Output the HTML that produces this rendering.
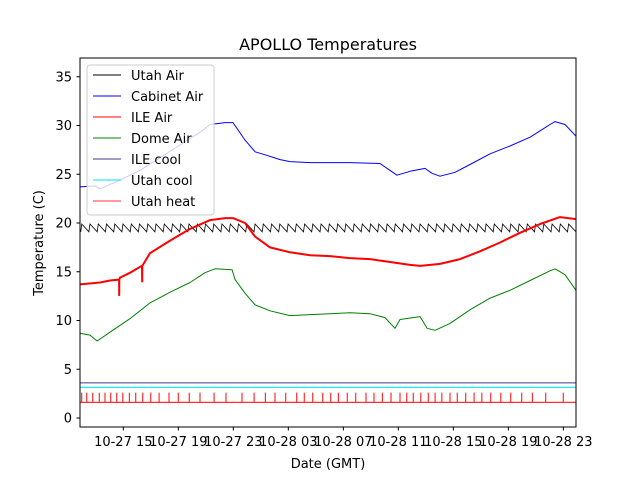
<!DOCTYPE html>
<html><head><meta charset="utf-8"><style>
body{margin:0;background:#fff;font-family:"Liberation Sans","DejaVu Sans",sans-serif}
svg text{font-family:"DejaVu Sans","Liberation Sans",sans-serif;fill:#000}
</style></head><body>
<svg id="chart" width="640" height="480" viewBox="0 0 640 480" xmlns="http://www.w3.org/2000/svg">
<rect width="640" height="480" fill="#fff"/>
<text x="328" y="50" font-size="16" text-anchor="middle">APOLLO Temperatures</text>
<text x="328" y="468" font-size="13" text-anchor="middle">Date (GMT)</text>
<text transform="translate(43,243) rotate(-90)" font-size="13" text-anchor="middle">Temperature (C)</text>
<g id="marks"></g>
<g id="axes"></g>
<rect x="80" y="58" width="496" height="369" fill="none" stroke="#000" stroke-width="1"/>
<g id="legend"></g>
</svg>
<script>
// time in hours from 10-27 00:00 GMT
const cabTimes=[11.85,12.94,13.31,14.76,16.21,17.67,19.12,20.58,21.31,22.4,22.98,23.85,24.58,25.31,26.4,27.12,28.58,30.03,31.48,33.67,34.4,34.9,35.85,36.94,37.45,38.03,39.12,40.21,41.67,43.12,44.58,46.03,46.4,47.12,47.92];
const cabVals=[23.7,23.8,23.5,24.4,25.4,26.7,28.0,29.3,30.1,30.3,30.3,28.5,27.3,27.0,26.5,26.3,26.2,26.2,26.2,26.1,25.4,24.9,25.3,25.6,25.1,24.8,25.2,26.0,27.1,27.9,28.8,30.1,30.4,30.1,28.9];
const ileTimes=[11.85,13.31,14.03,14.69,14.7,14.71,14.76,15.49,16.21,16.36,16.37,16.38,16.94,18.4,19.85,21.31,22.4,22.98,23.85,24.58,25.67,27.12,28.58,30.03,31.48,32.94,34.4,35.85,36.58,38.03,39.49,40.94,42.4,43.85,45.31,46.76,47.92];
const ileVals=[13.7,13.9,14.1,14.2,12.6,14.2,14.4,14.9,15.5,15.6,14.0,15.6,16.9,18.2,19.4,20.3,20.5,20.5,20.0,18.6,17.5,17.0,16.7,16.6,16.4,16.3,16.0,15.7,15.6,15.8,16.3,17.1,18.0,19.0,19.9,20.6,20.4];
const domeTimes=[11.85,12.58,13.09,14.03,15.49,16.94,18.4,19.85,20.94,21.67,22.91,23.13,23.85,24.58,25.67,27.12,28.58,30.03,31.48,32.94,34.03,34.76,35.12,36.58,37.09,37.67,38.76,40.21,41.67,43.12,44.58,46.03,46.4,47.12,47.92];
const domeVals=[8.7,8.5,7.9,8.8,10.2,11.8,12.9,13.9,14.9,15.3,15.2,14.2,12.8,11.6,11.0,10.5,10.6,10.7,10.8,10.7,10.3,9.2,10.1,10.4,9.2,9.0,9.7,11.1,12.3,13.1,14.1,15.1,15.3,14.7,13.1];
const utahToothTimes=[11.9,12.5,13.1,13.7,14.3,14.9,15.5,16.1,16.7,17.3,17.9,18.5,19.1,19.7,20.3,20.9,21.5,22.1,22.7,23.3,23.9,24.5,25.1,25.7,26.3,26.9,27.5,28.1,28.7,29.3,29.9,30.5,31.1,31.7,32.3,32.9,33.5,34.1,34.7,35.3,35.9,36.5,37.1,37.7,38.3,38.9,39.5,40.1,40.7,41.3,41.9,42.5,43.1,43.7,44.3,44.9,45.5,46.1,46.7,47.3];
const utahHigh=19.9, utahLow=19.1;
const heatTimes=[11.97,12.34,12.77,13.25,13.67,14.08,14.52,14.96,15.44,15.9,16.41,16.99,17.6,18.32,19.0,19.8,20.58,21.6,22.47,23.63,24.51,25.33,26.03,26.81,27.61,28.16,28.77,29.5,30.08,30.64,31.29,31.9,32.65,33.23,33.84,34.47,35.12,35.61,36.09,36.63,37.18,37.67,38.16,38.76,39.29,39.9,40.51,41.07,41.72,42.45,43.17,43.97,44.75,45.72,47.0];
const heatBase=1.6, heatOn=2.6, ileCoolLevel=3.6, utahCoolLevel=3.15;
const yTicks=[0,5,10,15,20,25,30,35];
const xTickTimes=[15,19,23,27,31,35,39,43,47];
const xTickLabels=["10-27 15","10-27 19","10-27 23","10-28 03","10-28 07","10-28 11","10-28 15","10-28 19","10-28 23"];
const tMin=11.85,tMax=47.92;

const NS="http://www.w3.org/2000/svg";
const X=t=>80+(t-tMin)/(tMax-tMin)*496;
const Y=v=>418-v*9.75;
function mk(tag,attrs,parent){const e=document.createElementNS(NS,tag);for(const k in attrs)e.setAttribute(k,attrs[k]);parent.appendChild(e);return e;}
const marks=document.getElementById('marks'), axes=document.getElementById('axes'), leg=document.getElementById('legend');
function line(ts,vs,color,w,name){
  const d=ts.map((t,i)=>(i?'L':'M')+X(t).toFixed(1)+' '+Y(vs[i]).toFixed(1)).join(' ');
  const p=mk('path',{d:d,fill:'none',stroke:color,'stroke-width':w,'stroke-linejoin':'round'},marks);
  
  
}
let ud='';
utahToothTimes.forEach((t,i)=>{const nt=i+1<utahToothTimes.length?utahToothTimes[i+1]:tMax;
  ud+=(i?'L':'M')+X(t).toFixed(1)+' '+Y(utahLow).toFixed(1)+' L'+X(t+0.08).toFixed(1)+' '+Y(utahHigh).toFixed(1)+' L'+X(Math.min(nt,tMax)).toFixed(1)+' '+Y(utahLow).toFixed(1)+' ';});
const up=mk('path',{d:ud,fill:'none',stroke:'#000','stroke-width':0.8},marks);


line(cabTimes,cabVals,'#0000ff',1,'cabinet-air-line');
line(ileTimes,ileVals,'#ff0000',2,'ile-air-line');
line(domeTimes,domeVals,'#008000',1,'dome-air-line');
line([tMin,tMax],[ileCoolLevel,ileCoolLevel],'#3b3b8f',1,'ile-cool-line');
line([tMin,tMax],[utahCoolLevel,utahCoolLevel],'#00e5ee',1.2,'utah-cool-line');
let hd='M'+X(tMin)+' '+Y(heatBase)+' L'+X(tMax)+' '+Y(heatBase);
heatTimes.forEach(t=>{hd+=' M'+X(t).toFixed(1)+' '+Y(heatBase)+' L'+X(t).toFixed(1)+' '+Y(heatOn);});
const hp=mk('path',{d:hd,fill:'none',stroke:'#ff3030','stroke-width':1.2},marks);


yTicks.forEach(v=>{const y=Y(v);
  const tk=mk('line',{x1:76.5,x2:80,y1:y,y2:y,stroke:'#000'},axes);
  
  
  const tx=mk('text',{x:72,y:y+4.5,'font-size':13,'text-anchor':'end'},axes);tx.textContent=v;
  
  });
xTickTimes.forEach((t,i)=>{const x=X(t);
  const tk=mk('line',{x1:x,x2:x,y1:427,y2:430.5,stroke:'#000'},axes);
  
  
  const tx=mk('text',{x:x,y:446,'font-size':13,'text-anchor':'middle'},axes);tx.textContent=xTickLabels[i];
  
  });
mk('rect',{x:87,y:65,width:127,height:150,rx:3,fill:'#fff','fill-opacity':0.8,stroke:'#ccc'},leg);
const items=[["Utah Air","#000"],["Cabinet Air","#0000ff"],["ILE Air","#ff0000"],["Dome Air","#008000"],["ILE cool","#3b3b8f"],["Utah cool","#00e5ee"],["Utah heat","#ff3030"]];
items.forEach((it,i)=>{const y=75+i*21;
  const g=mk('g',{},leg);
  
  
  mk('line',{x1:93,x2:121,y1:y,y2:y,stroke:it[1],'stroke-width':1},g);
  const tx=mk('text',{x:131,y:y+5,'font-size':13},g);tx.textContent=it[0];});
</script>
</body></html>
